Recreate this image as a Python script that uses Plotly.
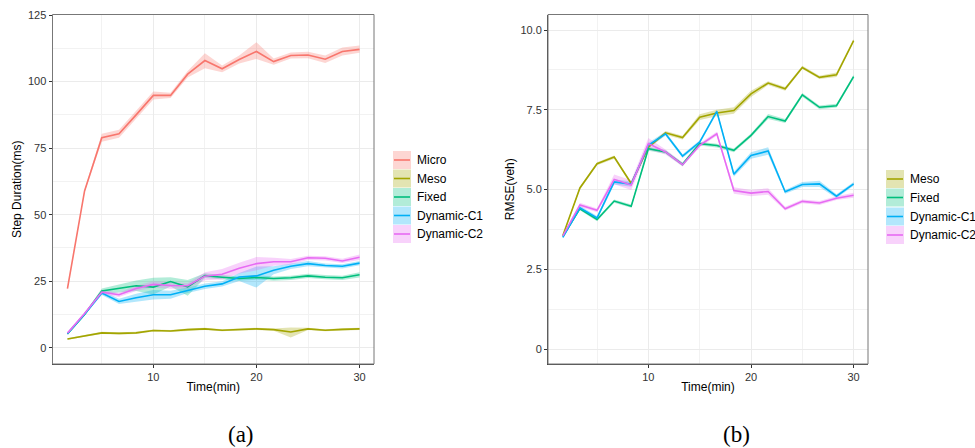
import plotly.graph_objects as go

# ---------------- data ----------------
time_min = [1.67, 3.33, 5, 6.67, 8.33, 10, 11.67, 13.33, 15, 16.67,
            18.33, 20, 21.67, 23.33, 25, 26.67, 28.33, 30]

# Panel (a): step duration (ms)
dur_micro = [22.2, 58.9, 78.9, 80.4, 87.5, 94.8, 94.8, 102.8, 107.9, 104.8,
             108.3, 111.3, 107.5, 109.8, 110.0, 108.4, 111.3, 112.1]
dur_micro_lo = [21.8, 58.3, 77.4, 78.9, 86.0, 93.3, 93.8, 101.5, 105.0, 103.5,
                106.8, 108.5, 106.3, 108.7, 108.8, 107.0, 109.8, 110.8]
dur_micro_hi = [22.6, 59.5, 80.4, 81.9, 89.0, 96.3, 95.8, 104.0, 110.6, 106.0,
                109.8, 114.8, 108.7, 110.9, 111.2, 109.8, 112.8, 113.6]

dur_meso = [3.3, 4.4, 5.6, 5.4, 5.6, 6.5, 6.3, 6.8, 7.1, 6.6,
            6.9, 7.1, 6.8, 5.9, 7.1, 6.6, 6.9, 7.1]
dur_meso_lo = [3.0, 4.1, 5.2, 5.0, 5.2, 6.1, 5.9, 6.4, 6.7, 6.2,
               6.5, 6.7, 6.4, 3.9, 6.7, 6.2, 6.5, 6.7]
dur_meso_hi = [3.6, 4.7, 6.0, 5.8, 6.0, 6.9, 6.7, 7.2, 7.5, 7.0,
               7.3, 7.5, 7.2, 7.6, 7.5, 7.0, 7.3, 7.5]

dur_fixed = [5.2, 12.5, 21.3, 22.3, 23.3, 22.8, 24.9, 22.9, 27.1, 26.5,
             26.0, 26.4, 26.0, 26.3, 27.0, 26.5, 26.3, 27.4]
dur_fixed_lo = [4.9, 12.0, 20.3, 20.8, 21.3, 20.0, 23.0, 19.5, 26.2, 25.7,
                25.2, 25.6, 25.2, 25.5, 26.2, 25.7, 25.5, 26.4]
dur_fixed_hi = [5.5, 13.0, 22.3, 23.8, 25.3, 26.3, 26.5, 25.5, 28.0, 27.3,
                26.8, 27.2, 26.8, 27.1, 27.8, 27.3, 27.1, 28.4]

dur_c1 = [5.3, 12.6, 20.6, 17.4, 18.8, 19.9, 19.9, 21.6, 23.1, 24.0,
          26.6, 27.0, 29.1, 30.6, 31.6, 30.9, 30.6, 31.8]
dur_c1_lo = [5.0, 12.1, 19.8, 16.4, 17.3, 18.1, 18.4, 20.6, 22.1, 23.0,
             25.1, 22.6, 27.6, 29.6, 30.6, 30.1, 29.8, 31.0]
dur_c1_hi = [5.6, 13.1, 21.4, 18.4, 20.3, 21.7, 21.4, 22.6, 24.1, 25.0,
             28.1, 30.5, 30.6, 31.6, 32.6, 31.7, 31.4, 32.6]

dur_c2 = [5.5, 12.9, 20.9, 19.9, 22.3, 23.8, 23.4, 23.3, 26.9, 27.6,
          29.9, 31.6, 32.3, 32.3, 33.8, 33.6, 32.6, 34.0]
dur_c2_lo = [5.2, 12.4, 20.1, 19.1, 21.3, 22.6, 22.2, 22.3, 25.4, 25.6,
             27.9, 29.1, 30.8, 31.3, 33.0, 32.8, 31.8, 33.0]
dur_c2_hi = [5.8, 13.4, 21.7, 20.7, 23.3, 25.0, 24.6, 24.3, 28.4, 29.6,
             31.9, 34.1, 33.8, 33.3, 34.6, 34.4, 33.4, 35.0]

# Panel (b): RMSE (veh)
rmse_meso = [3.56, 5.05, 5.81, 6.02, 5.19, 6.33, 6.78, 6.63, 7.27, 7.40,
             7.48, 8.00, 8.34, 8.16, 8.83, 8.52, 8.60, 9.67]
rmse_meso_hw = [0.03, 0.05, 0.05, 0.05, 0.05, 0.05, 0.06, 0.06, 0.09, 0.10,
                0.10, 0.10, 0.06, 0.06, 0.05, 0.05, 0.07, 0.05]
rmse_fixed = [3.53, 4.40, 4.06, 4.64, 4.48, 6.28, 6.18, 5.79, 6.44, 6.38,
              6.23, 6.70, 7.29, 7.15, 7.97, 7.58, 7.63, 8.54]
rmse_fixed_hw = [0.03, 0.05, 0.05, 0.05, 0.05, 0.06, 0.06, 0.06, 0.06, 0.06,
                 0.06, 0.06, 0.08, 0.06, 0.06, 0.06, 0.06, 0.06]
rmse_c1 = [3.50, 4.43, 4.11, 5.24, 5.17, 6.39, 6.75, 6.05, 6.49, 7.45,
           5.48, 6.07, 6.21, 4.93, 5.16, 5.18, 4.79, 5.18]
rmse_c1_hw = [0.03, 0.06, 0.06, 0.08, 0.08, 0.08, 0.06, 0.06, 0.06, 0.06,
              0.08, 0.10, 0.12, 0.06, 0.08, 0.10, 0.06, 0.06]
rmse_c2 = [3.55, 4.52, 4.35, 5.32, 5.14, 6.44, 6.18, 5.78, 6.39, 6.75,
           4.97, 4.89, 4.94, 4.40, 4.63, 4.58, 4.73, 4.82]
rmse_c2_hw = [0.03, 0.07, 0.06, 0.15, 0.15, 0.18, 0.08, 0.06, 0.06, 0.06,
              0.10, 0.10, 0.10, 0.06, 0.06, 0.06, 0.06, 0.08]

series_a = ["Micro", "Meso", "Fixed", "Dynamic-C1", "Dynamic-C2"]
series_b = ["Meso", "Fixed", "Dynamic-C1", "Dynamic-C2"]

y_ticks_a = [0, 25, 50, 75, 100, 125]
y_ticks_b = [0, 2.5, 5.0, 7.5, 10.0]
y_ticklabels_b = ["0", "2.5", "5.0", "7.5", "10.0"]
x_ticks = [10, 20, 30]

# ---------------- styling ----------------
colors = {"Micro": "#F8766D", "Meso": "#A3A500", "Fixed": "#00BF7D",
          "Dynamic-C1": "#00B0F6", "Dynamic-C2": "#E76BF3"}

def rgba(hexc, a):
    h = hexc.lstrip("#")
    return f"rgba({int(h[0:2],16)},{int(h[2:4],16)},{int(h[4:6],16)},{a})"

FONT = "Liberation Sans, Arial, sans-serif"

def band(vals, hw):
    return ([v - h for v, h in zip(vals, hw)], [v + h for v, h in zip(vals, hw)])

data_a = {
    "Micro": (dur_micro, dur_micro_lo, dur_micro_hi),
    "Meso": (dur_meso, dur_meso_lo, dur_meso_hi),
    "Fixed": (dur_fixed, dur_fixed_lo, dur_fixed_hi),
    "Dynamic-C1": (dur_c1, dur_c1_lo, dur_c1_hi),
    "Dynamic-C2": (dur_c2, dur_c2_lo, dur_c2_hi),
}
data_b = {
    "Meso": (rmse_meso, *band(rmse_meso, rmse_meso_hw)),
    "Fixed": (rmse_fixed, *band(rmse_fixed, rmse_fixed_hw)),
    "Dynamic-C1": (rmse_c1, *band(rmse_c1, rmse_c1_hw)),
    "Dynamic-C2": (rmse_c2, *band(rmse_c2, rmse_c2_hw)),
}

fig = go.Figure()

def add_panel(data, names, xa, ya):
    for n in names:
        mid, lo, hi = data[n]
        fig.add_trace(go.Scatter(x=time_min + time_min[::-1], y=hi + lo[::-1],
                                 fill="toself", fillcolor=rgba(colors[n], 0.3),
                                 line=dict(width=0), mode="lines", hoverinfo="skip",
                                 showlegend=False, xaxis=xa, yaxis=ya))
    for n in names:
        mid, lo, hi = data[n]
        fig.add_trace(go.Scatter(x=time_min, y=mid, mode="lines", name=n,
                                 line=dict(color=colors[n], width=1.6),
                                 showlegend=False, xaxis=xa, yaxis=ya))

add_panel(data_a, series_a, "x", "y")
add_panel(data_b, series_b, "x2", "y2")

W, H = 975, 448
dom_a = [52.5 / W, 374 / W]
dom_b = [548 / W, 868 / W]
dom_y = [1 - 364 / H, 1 - 14.5 / H]

axis_common = dict(showgrid=True, gridcolor="#EBEBEB", gridwidth=1, automargin=False,
                   zeroline=False, showline=True, linecolor="#444444", linewidth=1,
                   ticks="outside", ticklen=3, tickcolor="#333333",
                   tickfont=dict(family=FONT, size=11, color="#333333"))
minor_x = dict(tickvals=[5, 15, 25], showgrid=True, gridcolor="#F2F2F2", ticks="")

fig.update_layout(
    width=W, height=H, margin=dict(l=0, r=0, t=0, b=0, autoexpand=False),
    paper_bgcolor="white", plot_bgcolor="white",
    font=dict(family=FONT, color="black"),
    xaxis=dict(domain=dom_a, range=[0.22, 31.4], tickvals=x_ticks, minor=minor_x,
               title=dict(text="Time(min)", font=dict(size=12, family=FONT), standoff=0),
               anchor="y", **axis_common),
    yaxis=dict(domain=dom_y, range=[-6.1, 125.2], tickvals=y_ticks_a,
               minor=dict(tickvals=[12.5, 37.5, 62.5, 87.5, 112.5], showgrid=True, gridcolor="#F2F2F2", ticks=""),
               title=dict(text="Step Duration(ms)", font=dict(size=12, family=FONT), standoff=3),
               anchor="x", **axis_common),
    xaxis2=dict(domain=dom_b, range=[0.22, 31.4], tickvals=x_ticks, minor=minor_x,
                title=dict(text="Time(min)", font=dict(size=12, family=FONT), standoff=0),
                anchor="y2", **axis_common),
    yaxis2=dict(domain=dom_y, range=[-0.47, 10.49], tickvals=y_ticks_b, ticktext=y_ticklabels_b,
                minor=dict(tickvals=[1.25, 3.75, 6.25, 8.75], showgrid=True, gridcolor="#F2F2F2", ticks=""),
                title=dict(text="RMSE(veh)", font=dict(size=12, family=FONT), standoff=3),
                anchor="x2", **axis_common),
)

shapes = []
annotations = []
for dom in (dom_a, dom_b):
    shapes.append(dict(type="rect", xref="paper", yref="paper", x0=dom[0], x1=dom[1],
                       y0=dom_y[0], y1=dom_y[1], line=dict(color="#777777", width=1),
                       fillcolor="rgba(0,0,0,0)", layer="above"))

def legend(names, x0px, ycenters):
    for n, yc in zip(names, ycenters):
        shapes.append(dict(type="rect", xref="paper", yref="paper",
                           x0=x0px / W, x1=(x0px + 18) / W,
                           y0=1 - (yc + 9) / H, y1=1 - (yc - 9) / H,
                           fillcolor=rgba(colors[n], 0.3), line=dict(width=0)))
        shapes.append(dict(type="line", xref="paper", yref="paper",
                           x0=(x0px + 1) / W, x1=(x0px + 17) / W,
                           y0=1 - yc / H, y1=1 - yc / H,
                           line=dict(color=colors[n], width=1.6)))
        annotations.append(dict(text=n, xref="paper", yref="paper",
                                x=(x0px + 22) / W, y=1 - yc / H, xanchor="left", yanchor="middle",
                                showarrow=False, font=dict(family=FONT, size=12, color="black")))

legend(series_a, 393, [160, 178.5, 197, 215.5, 234])
legend(series_b, 886, [179, 197.5, 216.5, 235])

annotations.append(dict(text="(a)", xref="paper", yref="paper", x=241 / W, y=1 - 434 / H,
                        xanchor="center", yanchor="middle", showarrow=False,
                        font=dict(family="Liberation Serif, serif", size=23, color="black")))
annotations.append(dict(text="(b)", xref="paper", yref="paper", x=736 / W, y=1 - 434 / H,
                        xanchor="center", yanchor="middle", showarrow=False,
                        font=dict(family="Liberation Serif, serif", size=23, color="black")))

fig.update_layout(shapes=shapes, annotations=annotations)
fig.write_html("out.html", config={"displayModeBar": False},
               post_script="document.body.style.margin='0';document.body.style.overflow='hidden';")
